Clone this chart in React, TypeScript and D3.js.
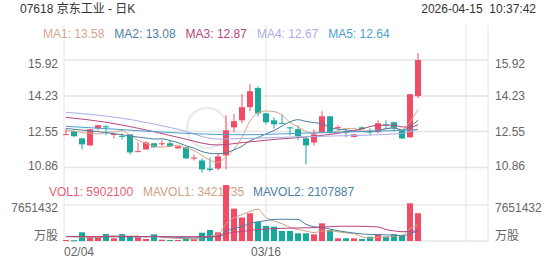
import React from "react";
import * as d3 from "d3";

const stockTitle = "07618 京东工业 - 日K";
const timestamp = "2026-04-15  10:37:42";

const dates = ["02/04","02/05","02/06","02/09","02/10","02/11","02/12","02/13","02/16","02/20","02/23","02/24","02/25","02/26","02/27","03/02","03/03","03/04","03/05","03/06","03/09","03/10","03/11","03/12","03/13","03/16","03/17","03/18","03/19","03/20","03/23","03/24","03/25","03/26","03/27","03/30","03/31","04/01","04/02","04/08","04/09","04/10","04/13","04/14","04/15"];
const opens = [12.41,12.56,12.23,11.90,12.70,12.80,12.42,12.35,12.42,11.60,11.71,12.00,11.98,12.00,11.76,11.81,11.31,11.19,10.81,10.81,11.43,12.75,13.08,13.70,14.60,13.41,13.08,12.96,12.75,12.66,12.23,12.04,12.52,13.27,12.73,12.56,12.30,12.75,12.61,12.52,12.89,12.99,12.61,12.28,14.22];
const highs = [12.70,12.58,12.25,12.68,12.87,12.85,12.47,12.47,12.44,12.04,12.09,12.02,12.14,12.14,11.87,11.83,11.47,11.29,11.33,11.52,13.32,13.37,14.31,14.78,14.69,13.43,13.22,13.37,12.76,12.85,12.33,12.66,13.51,13.29,12.85,12.66,12.44,12.80,12.70,13.08,13.08,13.01,12.63,14.33,16.25];
const lows = [12.40,12.31,11.71,11.88,12.61,12.37,12.23,12.18,11.47,11.60,11.69,11.79,11.85,11.83,11.74,11.27,11.19,10.62,10.67,10.72,10.77,12.52,12.94,13.51,13.27,12.89,12.70,12.92,12.37,12.14,11.00,11.90,12.47,12.47,12.61,12.28,12.28,12.64,12.37,12.47,12.70,12.56,12.21,12.26,14.12];
const closes = [12.43,12.33,11.95,12.66,12.85,12.75,12.44,12.31,11.57,11.63,12.04,11.81,12.00,11.85,11.85,11.29,11.33,10.77,10.74,11.38,12.61,13.04,13.70,14.45,13.41,12.99,12.89,12.93,12.70,12.33,11.90,12.42,13.27,12.54,12.76,12.52,12.42,12.66,12.52,12.94,12.85,12.70,12.23,14.31,15.92];
const volumes = [210000,150000,1850000,790000,790000,1490000,570000,1490000,910000,790000,430000,1420000,280000,210000,210000,570000,490000,1760000,2340000,1850000,11900000,6870000,5000000,5890000,4100000,3190000,3040000,2130000,2130000,1640000,1640000,1420000,3760000,2340000,570000,570000,570000,430000,910000,1420000,910000,1420000,1280000,8010000,5902100];

// moving averages
const ma1 = [12.60,12.58,12.50,12.48,12.44,12.51,12.53,12.60,12.38,12.14,12.00,11.87,11.81,11.87,11.91,11.76,11.66,11.42,11.20,11.10,11.37,11.71,12.29,13.04,13.44,13.52,13.49,13.33,12.98,12.77,12.55,12.46,12.52,12.49,12.58,12.70,12.70,12.58,12.58,12.61,12.68,12.73,12.65,13.01,13.58];
const ma2 = [12.70,12.66,12.62,12.58,12.55,12.50,12.45,12.40,12.35,12.29,12.25,12.20,12.21,12.13,12.03,11.88,11.77,11.61,11.53,11.51,11.56,11.69,11.86,12.12,12.27,12.44,12.60,12.81,13.01,13.11,13.03,12.97,12.93,12.74,12.67,12.63,12.58,12.55,12.53,12.60,12.69,12.72,12.61,12.79,13.08];
const ma3 = [[0,13.22],[5,12.99],[10,12.63],[14,12.28],[19,11.92],[22,12.03],[26,12.18],[30,12.30],[34,12.47],[37,12.68],[39,12.85],[41,12.85],[42,12.77],[43,12.76],[44,12.87]];
const ma4 = [[0,13.46],[7,13.18],[14,12.66],[19,12.20],[22,12.22],[26,12.27],[29,12.30],[34,12.35],[39,12.40],[42,12.47],[43,12.55],[44,12.67]];
const ma5 = [[0,12.80],[8,12.62],[16,12.45],[22,12.40],[30,12.48],[38,12.56],[44,12.64]];
const maLabels = ["MA1: 13.58","MA2: 13.08","MA3: 12.87","MA4: 12.67","MA5: 12.64"];
const maColors = ["#D6A58C","#4C7FA2","#B8467F","#A9AEE8","#4DA0CF"];

const mavol1 = [0.90,0.88,0.85,0.80,0.76,1.01,1.10,1.03,1.05,1.05,0.84,1.01,0.77,0.63,0.51,0.54,0.35,0.65,1.07,1.40,3.67,4.94,5.59,6.30,6.75,5.01,4.24,3.67,2.92,2.43,2.12,1.79,2.12,2.16,1.95,1.73,1.56,0.90,0.61,0.78,0.85,1.02,1.19,2.61,3.42];
const mavol2 = [0.95,0.93,0.92,0.91,0.90,0.90,0.90,0.90,0.90,0.90,0.93,1.05,0.90,0.84,0.78,0.69,0.68,0.71,0.85,0.96,2.10,2.65,3.12,3.69,4.08,4.34,4.59,4.63,4.61,4.59,3.56,3.02,2.89,2.54,2.19,1.92,1.68,1.51,1.39,1.36,1.29,1.29,1.04,1.61,2.11];
const mavol3 = [[0,0.95],[10,0.92],[19,0.93],[20,1.51],[21,1.85],[22,2.01],[23,2.26],[24,2.43],[26,2.62],[29,2.77],[31,2.83],[34,3.13],[36,3.14],[39,2.98],[40,2.43],[41,2.15],[42,1.97],[43,2.07],[44,2.16]];
const volLabels = ["VOL1: 5902100","MAVOL1: 3421735","MAVOL2: 2107887"];
const volColors = ["#EC6076","#D0A184","#4C7FA2"];

const priceTicks = [15.92, 14.23, 12.55, 10.86];
const volTick = 7651432;
const volUnit = "万股";
const xTickLabels = ["02/04", "03/16"];

const UP = "#F24B66";
const DOWN = "#17AA9B";
const FONT = "'Liberation Sans', Arial, 'Noto Sans CJK SC', sans-serif";

export default function App() {
  const x = d3.scaleLinear().domain([-0.25, 52.75]).range([64, 488]);
  const yP = d3.scaleLinear().domain([10.86, 15.92]).range([167.5, 60]);
  const yV = d3.scaleLinear().domain([0, volTick]).range([241, 205]);
  const bw = 6;

  const linePts = (pts: number[][], y: (v: number) => number) =>
    d3.line<number[]>().x((d) => x(d[0])).y((d) => y(d[1])).curve(d3.curveMonotoneX)(pts) || "";
  const idx = (arr: number[]) => arr.map((v, i) => [i, v]);

  const maSeries = [idx(ma1), idx(ma2), ma3, ma4, ma5];
  const volSeries = [idx(mavol1).map((d) => [d[0], d[1] * 1e6]), idx(mavol2).map((d) => [d[0], d[1] * 1e6]), mavol3.map((d) => [d[0], d[1] * 1e6])];
  const volLineColors = ["#D0A184", "#4C7FA2", "#B8467F"];

  const gridX = [x.range()[0], x(25), x(50), x.range()[1]];

  return (
    <svg width={552} height={265} style={{ position: "absolute", left: 0, top: 0, fontFamily: FONT }}>
      <rect width={552} height={265} fill="#fff" />
      {/* grid */}
      {gridX.map((gx, i) => (
        <line key={"gx" + i} x1={gx} x2={gx} y1={25} y2={241} stroke="#e4e4e4" strokeWidth={1} />
      ))}
      {priceTicks.map((t) => (
        <line key={"gp" + t} x1={64} x2={488} y1={yP(t)} y2={yP(t)} stroke="#e4e4e4" strokeWidth={1.5} />
      ))}
      <line x1={64} x2={488} y1={yV(volTick)} y2={yV(volTick)} stroke="#e8dede" strokeWidth={1} />
      <line x1={64} x2={488} y1={yV(0)} y2={yV(0)} stroke="#d8d8d8" strokeWidth={1} />

      {/* watermark */}
      <circle cx={207} cy={128} r={20} fill="none" stroke="#ececec" strokeWidth={2.5} />

      {/* header */}
      <text x={20} y={12.5} fontSize={12} fill="#333">{stockTitle}</text>
      <text x={536} y={12.5} fontSize={12} fill="#333" textAnchor="end" style={{ whiteSpace: "pre" }}>{timestamp}</text>

      {/* MA legend */}
      {maLabels.map((l, i) => (
        <text key={l} x={43 + i * 71.3} y={37.5} fontSize={12} fill={maColors[i]}>{l}</text>
      ))}

      {/* price axis labels */}
      {priceTicks.map((t, i) => {
        const off = i === 0 ? 7.5 : i === priceTicks.length - 1 ? 2 : 4.5;
        return (
          <g key={"pl" + t}>
            <text x={58} y={yP(t) + off} fontSize={12} fill="#666" textAnchor="end">{t.toFixed(2)}</text>
            <text x={495} y={yP(t) + off} fontSize={12} fill="#666">{t.toFixed(2)}</text>
          </g>
        );
      })}

      {/* candles */}
      {dates.map((d, i) => {
        const o = opens[i], c = closes[i], h = highs[i], l = lows[i];
        const col = c >= o ? UP : DOWN;
        const cx = x(i);
        const top = yP(Math.max(o, c));
        const bh = Math.max(1, yP(Math.min(o, c)) - top);
        return (
          <g key={"c" + d}>
            <line x1={cx} x2={cx} y1={yP(h)} y2={yP(l)} stroke={col} strokeWidth={1} />
            <rect x={cx - bw / 2} y={top} width={bw} height={bh} fill={col} />
          </g>
        );
      })}

      {/* MA lines */}
      {maSeries.map((s, i) => (
        <path key={"ma" + i} d={linePts(s as number[][], yP)} fill="none" stroke={maColors[i]} strokeWidth={1} />
      ))}

      {/* volume legend */}
      {volLabels.map((l, i) => (
        <text key={l} x={[49, 143, 253][i]} y={196} fontSize={12} fill={volColors[i]}>{l}</text>
      ))}

      {/* volume bars */}
      {dates.map((d, i) => {
        const col = closes[i] >= opens[i] ? UP : DOWN;
        const top = yV(volumes[i]);
        return <rect key={"v" + d} x={x(i) - bw / 2} y={top} width={bw} height={Math.max(1, yV(0) - top)} fill={col} />;
      })}

      {/* volume MA lines */}
      {volSeries.map((s, i) => (
        <path key={"mv" + i} d={linePts(s as number[][], yV)} fill="none" stroke={volLineColors[i]} strokeWidth={1} />
      ))}

      {/* volume axis labels */}
      <text x={58} y={yV(volTick) + 7} fontSize={12} fill="#666" textAnchor="end">{volTick}</text>
      <text x={495} y={yV(volTick) + 7} fontSize={12} fill="#666">{volTick}</text>
      <text x={58} y={239.5} fontSize={12} fill="#666" textAnchor="end">{volUnit}</text>
      <text x={495} y={239.5} fontSize={12} fill="#666">{volUnit}</text>

      {/* x labels */}
      {xTickLabels.map((lab, k) => {
        const i = dates.indexOf(lab);
        return (
          <text key={lab} x={k === 0 ? 64 : x(i)} y={256} fontSize={12} fill="#666" textAnchor={k === 0 ? "start" : "middle"}>{lab}</text>
        );
      })}
    </svg>
  );
}
